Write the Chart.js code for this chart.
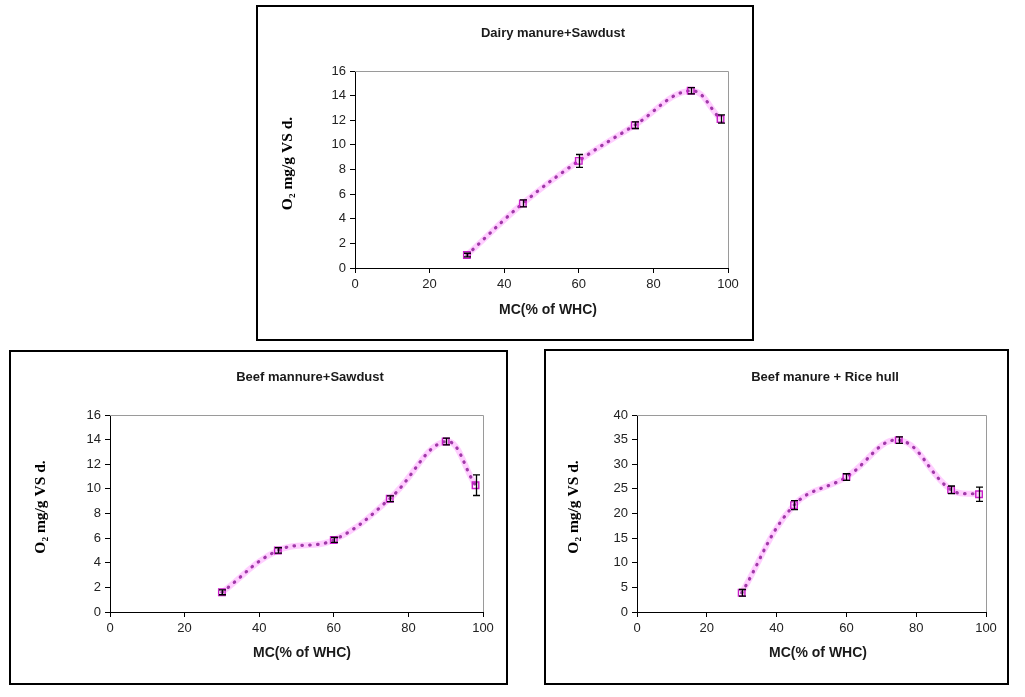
<!DOCTYPE html>
<html><head><meta charset="utf-8">
<script src="https://cdn.jsdelivr.net/npm/chart.js@4.4.1/dist/chart.umd.min.js"></script>
<style>
html,body{margin:0;padding:0;background:#fff;}
body{width:1025px;height:697px;position:relative;overflow:hidden;}
.panel{position:absolute;background:#fff;}
.panel canvas{position:absolute;left:0;top:0;}
.frame{position:absolute;left:0;top:0;right:0;bottom:0;border:2px solid #000;box-sizing:border-box;pointer-events:none;}
</style></head><body>
<div class="panel" id="p1"><canvas id="c1"></canvas><div class="frame"></div></div>
<div class="panel" id="p2"><canvas id="c2"></canvas><div class="frame"></div></div>
<div class="panel" id="p3"><canvas id="c3"></canvas><div class="frame"></div></div>
<script>
// ---- data ----
const mc = [30, 45, 60, 75, 90, 98];
const dairySawdust    = [1.05, 5.25, 8.7, 11.6, 14.4, 12.1];
const dairySawdustErr = [0.15, 0.28, 0.52, 0.27, 0.25, 0.33];
const beefSawdust     = [1.6, 5.0, 5.85, 9.2, 13.85, 10.3];
const beefSawdustErr  = [0.2, 0.22, 0.2, 0.23, 0.27, 0.84];
const beefRice        = [3.9, 21.7, 27.4, 34.9, 24.8, 23.9];
const beefRiceErr     = [0.67, 0.9, 0.67, 0.67, 0.78, 1.45];
const xTicksMax = 100, xTicksStep = 20;
const titles = ['Dairy manure+Sawdust', 'Beef mannure+Sawdust', 'Beef manure + Rice hull'];
const xTitle = 'MC(% of WHC)';
const yTitle = 'O\u2082 mg/g VS d.';

// ---- layout (positions/styles) ----
const SANS = '"Liberation Sans", Arial, sans-serif';
const SERIF = '"Liberation Serif", "DejaVu Serif", serif';
const panels = [
  {pid:'p1', cid:'c1', x:256, y:5, w:498, h:336, plotLeft:99, plotRight:472, plotTop:66, plotBottom:263,
   titleX:297, titleY:28, xTitleX:292, xTitleY:305, yTitleX:31.5, yTitleY:158.5,
   title:titles[0], values:dairySawdust, errors:dairySawdustErr, yMax:16, yStep:2},
  {pid:'p2', cid:'c2', x:9, y:350, w:499, h:335, plotLeft:101, plotRight:474, plotTop:65, plotBottom:262,
   titleX:301, titleY:27.5, xTitleX:293, xTitleY:303.5, yTitleX:32, yTitleY:157,
   title:titles[1], values:beefSawdust, errors:beefSawdustErr, yMax:16, yStep:2},
  {pid:'p3', cid:'c3', x:544, y:349, w:465, h:336, plotLeft:93, plotRight:442, plotTop:66, plotBottom:263,
   titleX:281, titleY:28.5, xTitleX:274, xTitleY:304, yTitleX:29.5, yTitleY:158,
   title:titles[2], values:beefRice, errors:beefRiceErr, yMax:40, yStep:5}
];

const errorBars = {
  id:'errorBars',
  afterDatasetsDraw(chart){
    const ctx = chart.ctx, ys = chart.scales.y;
    chart.data.datasets.forEach((ds, i) => {
      if (!ds.errors) return;
      const meta = chart.getDatasetMeta(i);
      ctx.save();
      ctx.strokeStyle = '#000';
      ctx.lineWidth = 1.3;
      meta.data.forEach((pt, j) => {
        const v = ds.data[j].y, e = ds.errors[j];
        const y1 = ys.getPixelForValue(v + e), y2 = ys.getPixelForValue(v - e);
        const x = Math.round(pt.x) + 0.5;
        ctx.beginPath();
        ctx.moveTo(x, y1); ctx.lineTo(x, y2);
        ctx.moveTo(x - 3.5, y1); ctx.lineTo(x + 3.5, y1);
        ctx.moveTo(x - 3.5, y2); ctx.lineTo(x + 3.5, y2);
        ctx.stroke();
      });
      ctx.restore();
    });
  }
};

const frameAndText = {
  id:'frameAndText',
  afterDraw(chart, args, o){
    const ctx = chart.ctx, a = chart.chartArea;
    ctx.save();
    ctx.strokeStyle = '#9a9a9a';
    ctx.lineWidth = 1;
    ctx.beginPath();
    ctx.moveTo(a.left, Math.round(a.top) + 0.5);
    ctx.lineTo(Math.round(a.right) + 0.5, Math.round(a.top) + 0.5);
    ctx.lineTo(Math.round(a.right) + 0.5, a.bottom);
    ctx.stroke();
    ctx.fillStyle = '#1a1a1a';
    ctx.textAlign = 'center';
    ctx.textBaseline = 'middle';
    ctx.font = 'bold 13px ' + SANS;
    ctx.fillText(o.title, o.titleX, o.titleY);
    ctx.font = 'bold 14px ' + SANS;
    ctx.fillText(o.xTitle, o.xTitleX, o.xTitleY);
    ctx.translate(o.yTitleX, o.yTitleY);
    ctx.rotate(-Math.PI / 2);
    ctx.fillStyle = '#000';
    ctx.font = 'bold 15.5px ' + SERIF;
    ctx.fillText(o.yTitle, 0, 0);
    ctx.restore();
  }
};

function makeChart(P){
  const panel = document.getElementById(P.pid);
  panel.style.left = P.x + 'px'; panel.style.top = P.y + 'px';
  panel.style.width = P.w + 'px'; panel.style.height = P.h + 'px';
  const cv = document.getElementById(P.cid);
  cv.width = P.w; cv.height = P.h;
  cv.style.width = P.w + 'px'; cv.style.height = P.h + 'px';
  const pts = mc.map((x, i) => ({x: x, y: P.values[i]}));
  const tickFont = {family: SANS, size: 13};
  new Chart(cv, {
    type:'line',
    data:{datasets:[
      {data:pts, errors:P.errors, showLine:false, pointStyle:'rect', pointRadius:4.6,
       pointBorderColor:'#c81ec8', pointBackgroundColor:'rgba(255,255,255,0)', pointBorderWidth:1.4, order:0},
      {data:pts, borderColor:'#a038a8', borderWidth:3.2, borderDash:[0.5, 7.4], borderCapStyle:'round',
       tension:0.4, pointRadius:0, fill:false, order:1},
      {data:pts, borderColor:'rgba(255,130,255,0.38)', borderWidth:6, tension:0.4, pointRadius:0, fill:false, order:2}
    ]},
    options:{
      responsive:false, animation:false, devicePixelRatio:1,
      layout:{padding:{top:P.plotTop, right:P.w - P.plotRight, left:0, bottom:0}},
      plugins:{legend:{display:false}, tooltip:{enabled:false},
        frameAndText:{title:P.title, titleX:P.titleX, titleY:P.titleY, xTitle:xTitle, xTitleX:P.xTitleX, xTitleY:P.xTitleY,
                      yTitle:yTitle, yTitleX:P.yTitleX, yTitleY:P.yTitleY}},
      scales:{
        x:{type:'linear', position:'bottom', min:0, max:xTicksMax,
           ticks:{stepSize:xTicksStep, color:'#222', font:tickFont, padding:4, maxRotation:0, autoSkip:false},
           grid:{display:true, drawOnChartArea:false, drawTicks:true, tickLength:5, color:'#000'},
           border:{display:true, color:'#000', width:1},
           afterFit(s){ s.height = P.h - P.plotBottom; }},
        y:{type:'linear', position:'left', min:0, max:P.yMax,
           ticks:{stepSize:P.yStep, color:'#222', font:tickFont, padding:4},
           grid:{display:true, drawOnChartArea:false, drawTicks:true, tickLength:5, color:'#000'},
           border:{display:true, color:'#000', width:1},
           afterFit(s){ s.width = P.plotLeft; }}
      }
    },
    plugins:[errorBars, frameAndText]
  });
}
panels.forEach(makeChart);
</script>
</body></html>
